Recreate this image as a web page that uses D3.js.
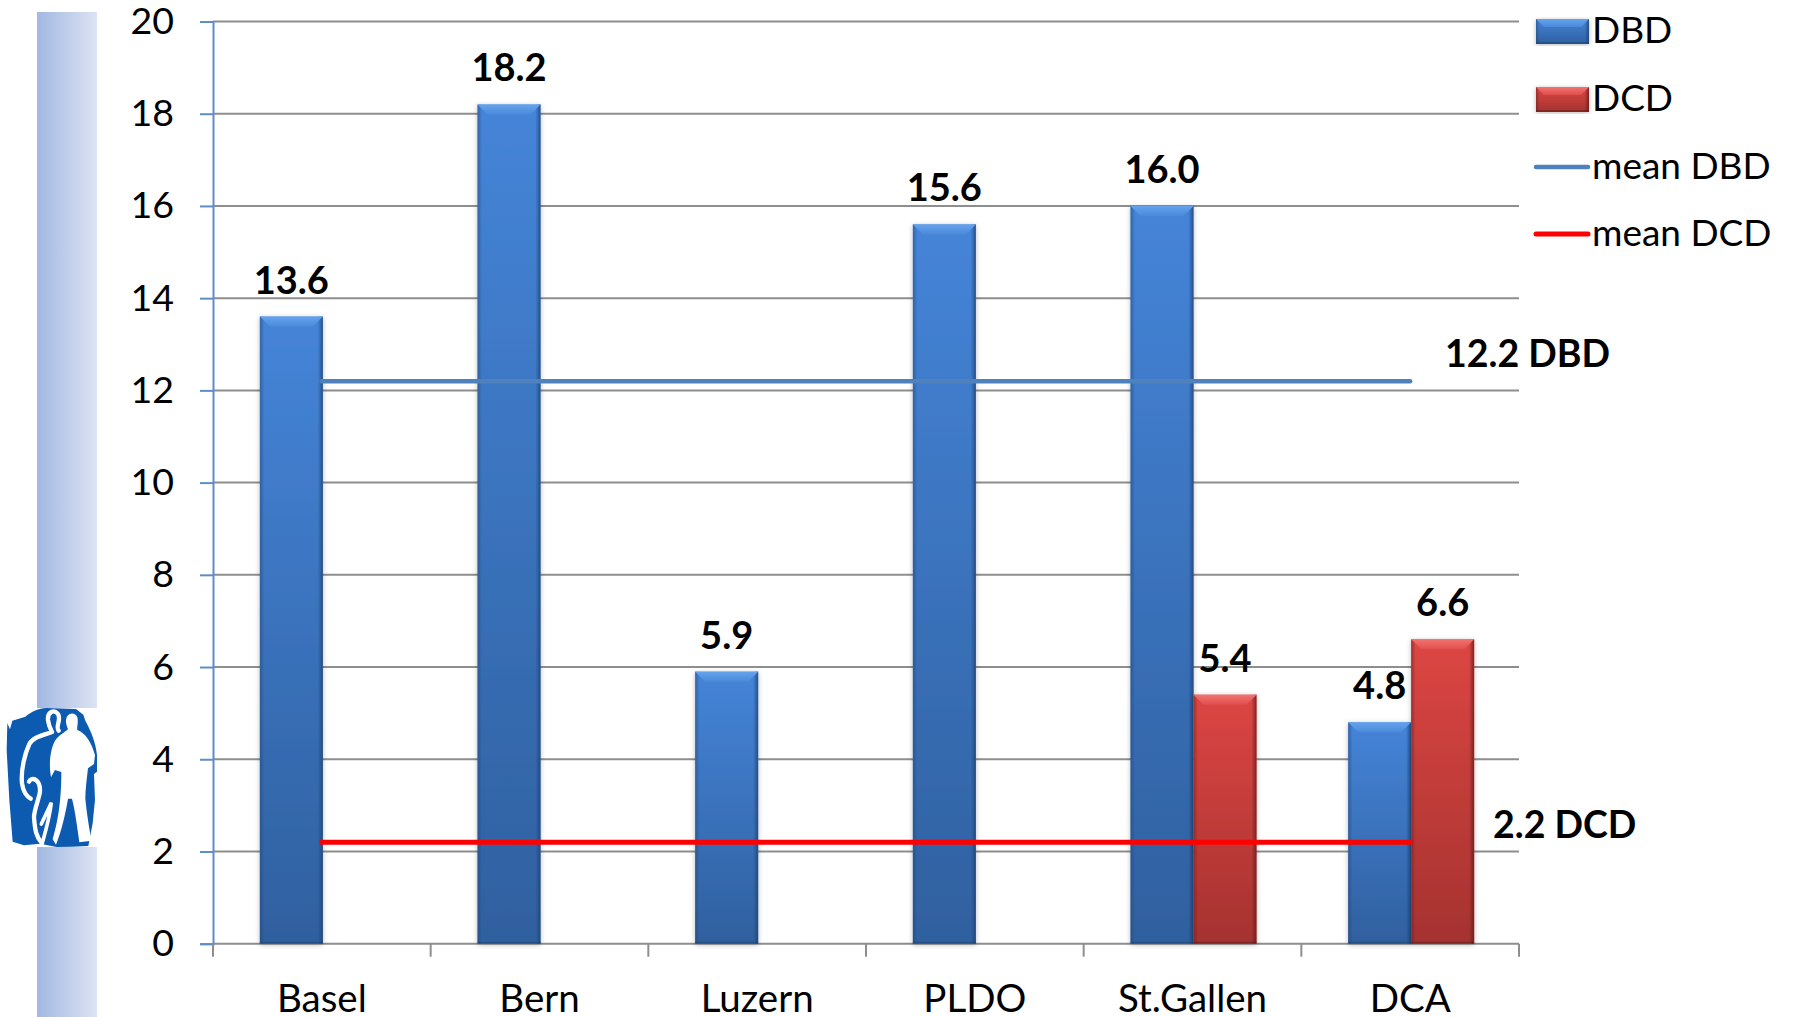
<!DOCTYPE html>
<html>
<head>
<meta charset="utf-8">
<script src="https://d3js.org/d3.v7.min.js"></script>
<style>
  html, body { margin: 0; padding: 0; background: #fff; }
  svg { display: block; }
  text { font-family: Lato, "Open Sans", sans-serif; fill: #000; }
</style>
</head>
<body>
<div id="chartContainer"></div>
<script type="text/javascript">
// chart data
var categories = ["Basel", "Bern", "Luzern", "PLDO", "St.Gallen", "DCA"];
var seriesNames = ["DBD", "DCD"];
var dbdValues = [13.6, 18.2, 5.9, 15.6, 16.0, 4.8];
var dcdValues = [null, null, null, null, 5.4, 6.6];
var meanDbd = [12.2, 12.2, 12.2, 12.2, 12.2, 12.2];
var meanDcd = [2.2, 2.2, 2.2, 2.2, 2.2, 2.2];
var yTicks = [0, 2, 4, 6, 8, 10, 12, 14, 16, 18, 20];
var legendNames = ["DBD", "DCD", "mean DBD", "mean DCD"];
var meanLabels = ["12.2 DBD", "2.2 DCD"];

var width = 1793, height = 1017;
var bounds = { left: 213, right: 1519, top: 21.5, bottom: 943.7 };

var palette = {
  DBD: { top: "#4584d8", bottom: "#2f609f", bevel: "#66a3ee", bevel2: "#4a8ad9", edge: "#1f4374" },
  DCD: { top: "#dc4643", bottom: "#a53230", bevel: "#f27370", bevel2: "#df4f4c", edge: "#641c1b" }
};

var svg = d3.select("#chartContainer").append("svg")
  .attr("width", width).attr("height", height);
var defs = svg.append("defs");

// gradients for strip and bars
function linGrad(id, x2, y2, stops) {
  var g = defs.append("linearGradient").attr("id", id)
    .attr("x1", 0).attr("y1", 0).attr("x2", x2).attr("y2", y2);
  stops.forEach(function (s) {
    g.append("stop").attr("offset", s[0]).attr("stop-color", s[1]).attr("stop-opacity", s[2] === undefined ? 1 : s[2]);
  });
}
linGrad("strip", 1, 0, [[0, "#a2b8e2"], [1, "#dce3f3"]]);
seriesNames.forEach(function (s) {
  linGrad("fill" + s, 0, 1, [[0, palette[s].top], [1, palette[s].bottom]]);
  linGrad("bevel" + s, 0, 1, [[0, palette[s].bevel], [1, palette[s].bevel2]]);
  linGrad("side" + s, 1, 0, [[0, palette[s].edge, 0.5], [0.07, palette[s].edge, 0], [0.92, palette[s].edge, 0], [1, palette[s].edge, 0.8]]);
});
var shadow = defs.append("filter").attr("id", "soft")
  .attr("x", "-20%").attr("y", "-5%").attr("width", "140%").attr("height", "110%");
shadow.append("feDropShadow").attr("dx", 0).attr("dy", 1).attr("stdDeviation", 2.5)
  .attr("flood-color", "#000").attr("flood-opacity", 0.28);

// left strip with the logo in the gap
svg.selectAll("rect.strip").data([[12, 708], [847, 1017]]).enter().append("rect")
  .attr("class", "strip").attr("x", 37).attr("width", 60)
  .attr("y", function (d) { return d[0]; })
  .attr("height", function (d) { return d[1] - d[0]; })
  .attr("fill", "url(#strip)");

var logo = svg.append("g").attr("transform", "translate(0,700) scale(0.3333)");
logo.append("path").attr("fill", "#0d5bb0")
  .attr("d", "M22,70 L30,88 L37,62 L76,50 C95,35 115,25 140,24 L228,27 L250,44 L256,62 C272,90 288,130 291,165 L291,215 L282,222 L285,300 L278,370 L265,438 L215,440 L170,441 L120,431 L72,436 L38,425 L28,300 L20,150 Z");
logo.append("path").attr("fill", "#fff")
  .attr("d", "M200,52 C206,38 226,36 232,52 C236,68 230,82 232,90 C255,98 274,125 285,165 L282,192 L264,205 C260,240 256,270 256,295 C260,340 268,385 274,422 L238,427 C232,385 226,335 216,296 L204,296 C198,335 184,395 168,434 L158,418 C172,370 184,310 184,216 L165,210 L153,232 C146,195 150,150 165,122 C178,104 196,96 204,88 C200,76 195,65 200,52 Z");
logo.append("path").attr("fill", "none").attr("stroke", "#fff").attr("stroke-width", 13)
  .attr("stroke-linejoin", "round").attr("stroke-linecap", "round")
  .attr("d", "M176,92 C165,80 185,60 174,42 C162,27 142,35 144,60 C146,78 152,88 156,96 C130,106 100,110 88,132 C75,160 62,210 66,250 C70,280 85,292 92,296");
logo.append("path").attr("fill", "none").attr("stroke", "#fff").attr("stroke-width", 13)
  .attr("stroke-linecap", "round")
  .attr("d", "M87,245 C95,228 122,238 120,275 C116,300 102,330 102,352 C105,390 108,410 126,430");
logo.append("path").attr("fill", "none").attr("stroke", "#fff").attr("stroke-width", 11)
  .attr("stroke-linecap", "round")
  .attr("d", "M124,372 L154,308 C150,345 138,390 128,425");
logo.append("path").attr("fill", "none").attr("stroke", "#0d5bb0").attr("stroke-width", 5)
  .attr("stroke-linecap", "round")
  .attr("d", "M214,350 C210,385 198,400 190,425");

// scales
var x0 = d3.scaleBand().domain(categories).range([bounds.left, bounds.right]);
var x1 = d3.scaleBand().domain(seriesNames).range([1, x0.bandwidth() + 1])
  .paddingInner(0).paddingOuter(0.728);
var y = d3.scaleLinear().domain([0, 20]).range([bounds.bottom, bounds.top]);

// gridlines
svg.append("g").selectAll("line").data(yTicks).enter().append("line")
  .attr("x1", bounds.left).attr("x2", bounds.right)
  .attr("y1", function (d) { return y(d); }).attr("y2", function (d) { return y(d); })
  .attr("stroke", "#8e8e8e").attr("stroke-width", 2);

// y axis
var yAxis = svg.append("g").attr("transform", "translate(" + bounds.left + ",0)")
  .call(d3.axisLeft(y).tickValues(yTicks).tickSize(13).tickPadding(26).tickFormat(d3.format("d")));
yAxis.select(".domain").attr("stroke", "#5f8dc8").attr("stroke-width", 2);
yAxis.selectAll(".tick line").attr("stroke", "#5f8dc8").attr("stroke-width", 2);
yAxis.selectAll(".tick text").attr("dy", 12).style("font-size", "37.5px");

// x axis: labels from band scale, ticks at the band edges
var xAxis = svg.append("g").attr("transform", "translate(0," + bounds.bottom + ")")
  .call(d3.axisBottom(x0).tickSize(0).tickPadding(0));
xAxis.select(".domain").remove();
xAxis.selectAll(".tick text").attr("y", 68).attr("dy", 0).style("font-size", "38.5px");
var edges = categories.map(function (c) { return x0(c); }).concat([bounds.right]);
svg.append("g").selectAll("line").data(edges).enter().append("line")
  .attr("x1", function (d) { return d; }).attr("x2", function (d) { return d; })
  .attr("y1", bounds.bottom).attr("y2", bounds.bottom + 13)
  .attr("stroke", "#8e8e8e").attr("stroke-width", 2);

// draws one bevelled box
function bevelBox(g, bx, by, bw, bh, name, bevelH) {
  var c = palette[name];
  var inset = Math.min(bevelH, bw / 4);
  g.append("rect").attr("x", bx).attr("y", by).attr("width", bw).attr("height", bh)
    .attr("fill", "url(#fill" + name + ")").attr("filter", "url(#soft)");
  g.append("rect").attr("x", bx).attr("y", by).attr("width", bw).attr("height", bh)
    .attr("fill", "url(#side" + name + ")");
  g.append("polygon").attr("fill", "url(#bevel" + name + ")")
    .attr("points", [[bx, by], [bx + bw, by], [bx + bw - inset, by + bevelH], [bx + inset, by + bevelH]].join(" "));
  g.append("rect").attr("x", bx).attr("y", by + bh - 2).attr("width", bw).attr("height", 2)
    .attr("fill", c.edge).attr("opacity", 0.55);
}

// bars and their value labels
var barValues = { DBD: dbdValues, DCD: dcdValues };
var bars = svg.append("g");
seriesNames.forEach(function (name) {
  barValues[name].forEach(function (v, i) {
    if (v === null) return;
    var bx = x0(categories[i]) + x1(name);
    bevelBox(bars, bx, y(v), x1.bandwidth(), y(0) - y(v), name, 10);
  });
});
seriesNames.forEach(function (name) {
  barValues[name].forEach(function (v, i) {
    if (v === null) return;
    svg.append("text")
      .attr("x", x0(categories[i]) + x1(name) + x1.bandwidth() / 2)
      .attr("y", y(v) - 23)
      .attr("text-anchor", "middle")
      .style("font-size", "38px").style("font-weight", 700)
      .text(v.toFixed(1));
  });
});

// mean lines run between the band centres
var meanLine = d3.line()
  .x(function (d, i) { return x0(categories[i]) + x0.bandwidth() / 2; })
  .y(function (d) { return y(d); });
svg.append("path").datum(meanDbd).attr("d", meanLine).attr("fill", "none")
  .attr("stroke", "#4f81bd").attr("stroke-width", 4.5).attr("stroke-linecap", "round");
svg.append("path").datum(meanDcd).attr("d", meanLine).attr("fill", "none")
  .attr("stroke", "#ff0000").attr("stroke-width", 5).attr("stroke-linecap", "round");

// labels next to the mean lines
svg.append("text").attr("x", 1445).attr("y", 367)
  .style("font-size", "37.5px").style("font-weight", 700).text(meanLabels[0]);
svg.append("text").attr("x", 1493).attr("y", 838)
  .style("font-size", "37.5px").style("font-weight", 700).text(meanLabels[1]);

// legend
var legend = svg.append("g");
var legendY = [31, 99, 167, 234];
bevelBox(legend, 1536, legendY[0] - 12, 53, 25, "DBD", 8);
bevelBox(legend, 1536, legendY[1] - 12, 53, 25, "DCD", 8);
legend.append("line").attr("x1", 1536).attr("x2", 1588).attr("y1", legendY[2]).attr("y2", legendY[2])
  .attr("stroke", "#4f81bd").attr("stroke-width", 4.5).attr("stroke-linecap", "round");
legend.append("line").attr("x1", 1536).attr("x2", 1588).attr("y1", legendY[3]).attr("y2", legendY[3])
  .attr("stroke", "#ff0000").attr("stroke-width", 5).attr("stroke-linecap", "round");
legend.selectAll("text").data(legendNames).enter().append("text")
  .attr("x", 1592)
  .attr("y", function (d, i) { return legendY[i] + 12; })
  .style("font-size", "37px")
  .text(function (d) { return d; });
</script>
</body>
</html>
